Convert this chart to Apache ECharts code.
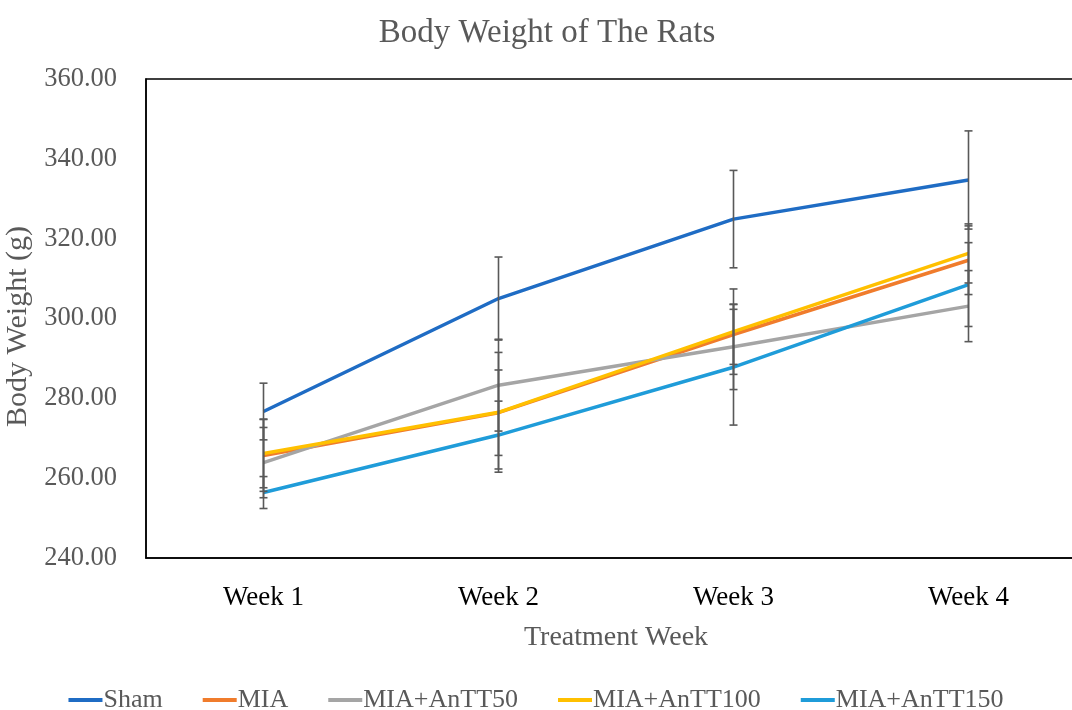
<!DOCTYPE html>
<html>
<head>
<meta charset="utf-8">
<script src="https://cdn.jsdelivr.net/npm/echarts@6/dist/echarts.min.js"></script>
<style>html,body{margin:0;padding:0;background:#fff;overflow:hidden}#c{width:1072px;height:710px}</style>
</head>
<body>
<div id="c"></div>
<script>
const categories = ['Week 1', 'Week 2', 'Week 3', 'Week 4'];
const seriesNames = ['Sham', 'MIA', 'MIA+AnTT50', 'MIA+AnTT100', 'MIA+AnTT150'];
const sham = [276.7, 305.0, 324.9, 334.7];
const shamSD = [7.1, 10.4, 12.2, 12.3];
const mia = [265.7, 276.4, 296.0, 314.6];
const miaSD = [9.0, 10.7, 7.5, 8.6];
const antt50 = [263.9, 283.3, 292.9, 303.1];
const antt50SD = [8.8, 11.5, 10.7, 8.9];
const antt100 = [266.2, 276.5, 296.7, 316.3];
const antt100SD = [8.6, 15.0, 10.7, 7.4];
const antt150 = [256.4, 270.8, 287.8, 308.5];
const antt150SD = [4.0, 8.5, 14.5, 10.5];
const yTicks = [240, 260, 280, 300, 320, 340, 360];

const values = [sham, mia, antt50, antt100, antt150];
const sds = [shamSD, miaSD, antt50SD, antt100SD, antt150SD];
const colors = ['#1f6cc4', '#f07c2c', '#a5a5a5', '#ffc000', '#1f9cd9'];
const FONT = '"Liberation Serif", serif';

const lineSeries = seriesNames.map((n, i) => ({
  name: n, type: 'line', data: values[i], symbol: 'none',
  lineStyle: { color: colors[i], width: 3.5 }, itemStyle: { color: colors[i] },
  z: 2 + i
}));

const errSeries = seriesNames.map((n, i) => ({
  type: 'custom', name: n + ' err', z: 10,
  data: values[i].map((v, k) => [k, v - sds[i][k], v + sds[i][k]]),
  renderItem: function (params, api) {
    const lo = api.coord([api.value(0), api.value(1)]);
    const hi = api.coord([api.value(0), api.value(2)]);
    const hw = 4;
    const st = { stroke: '#595959', lineWidth: 1.6 };
    return {
      type: 'group', children: [
        { type: 'line', shape: { x1: lo[0], y1: lo[1], x2: hi[0], y2: hi[1] }, style: st },
        { type: 'line', shape: { x1: lo[0] - hw, y1: lo[1], x2: lo[0] + hw, y2: lo[1] }, style: st },
        { type: 'line', shape: { x1: hi[0] - hw, y1: hi[1], x2: hi[0] + hw, y2: hi[1] }, style: st }
      ]
    };
  }
}));

const chart = echarts.init(document.getElementById('c'));
chart.setOption({
  animation: false,
  title: {
    text: 'Body Weight of The Rats', left: 542, top: 12, textAlign: 'center',
    textStyle: { fontFamily: FONT, fontSize: 33, fontWeight: 'normal', color: '#595959' }
  },
  legend: {
    data: seriesNames, bottom: -8, left: 'center', itemGap: 40,
    itemWidth: 34, itemHeight: 4, icon: 'rect',
    textStyle: { fontFamily: FONT, fontSize: 26, color: '#595959', padding: [0, 0, 0, -4] }
  },
  grid: {
    left: 146, top: 79, width: 940, height: 479, outerBoundsMode: 'none', containLabel: false,
    show: true, borderColor: '#000', borderWidth: 1.5, backgroundColor: 'transparent'
  },
  xAxis: {
    type: 'category', data: categories, boundaryGap: true,
    axisLine: { lineStyle: { color: '#000', width: 1.5 } }, axisTick: { show: false },
    axisLabel: { fontFamily: FONT, fontSize: 27, color: '#000', margin: 26 },
    name: 'Treatment Week', nameLocation: 'middle', nameGap: 66,
    nameTextStyle: { fontFamily: FONT, fontSize: 28, color: '#595959' }
  },
  yAxis: {
    type: 'value', min: yTicks[0], max: yTicks[yTicks.length - 1], interval: 20,
    axisLine: { show: true, lineStyle: { color: '#000', width: 1.5 } }, axisTick: { show: false },
    splitLine: { show: false },
    axisLabel: { fontFamily: FONT, fontSize: 26.5, color: '#595959', margin: 29, formatter: v => v.toFixed(2) },
    name: 'Body Weight (g)', nameLocation: 'middle', nameGap: 101, nameRotate: 90,
    nameTextStyle: { fontFamily: FONT, fontSize: 30, color: '#595959', padding: [0, 16, 0, 0] }
  },
  series: lineSeries.concat(errSeries)
});
</script>
</body>
</html>
